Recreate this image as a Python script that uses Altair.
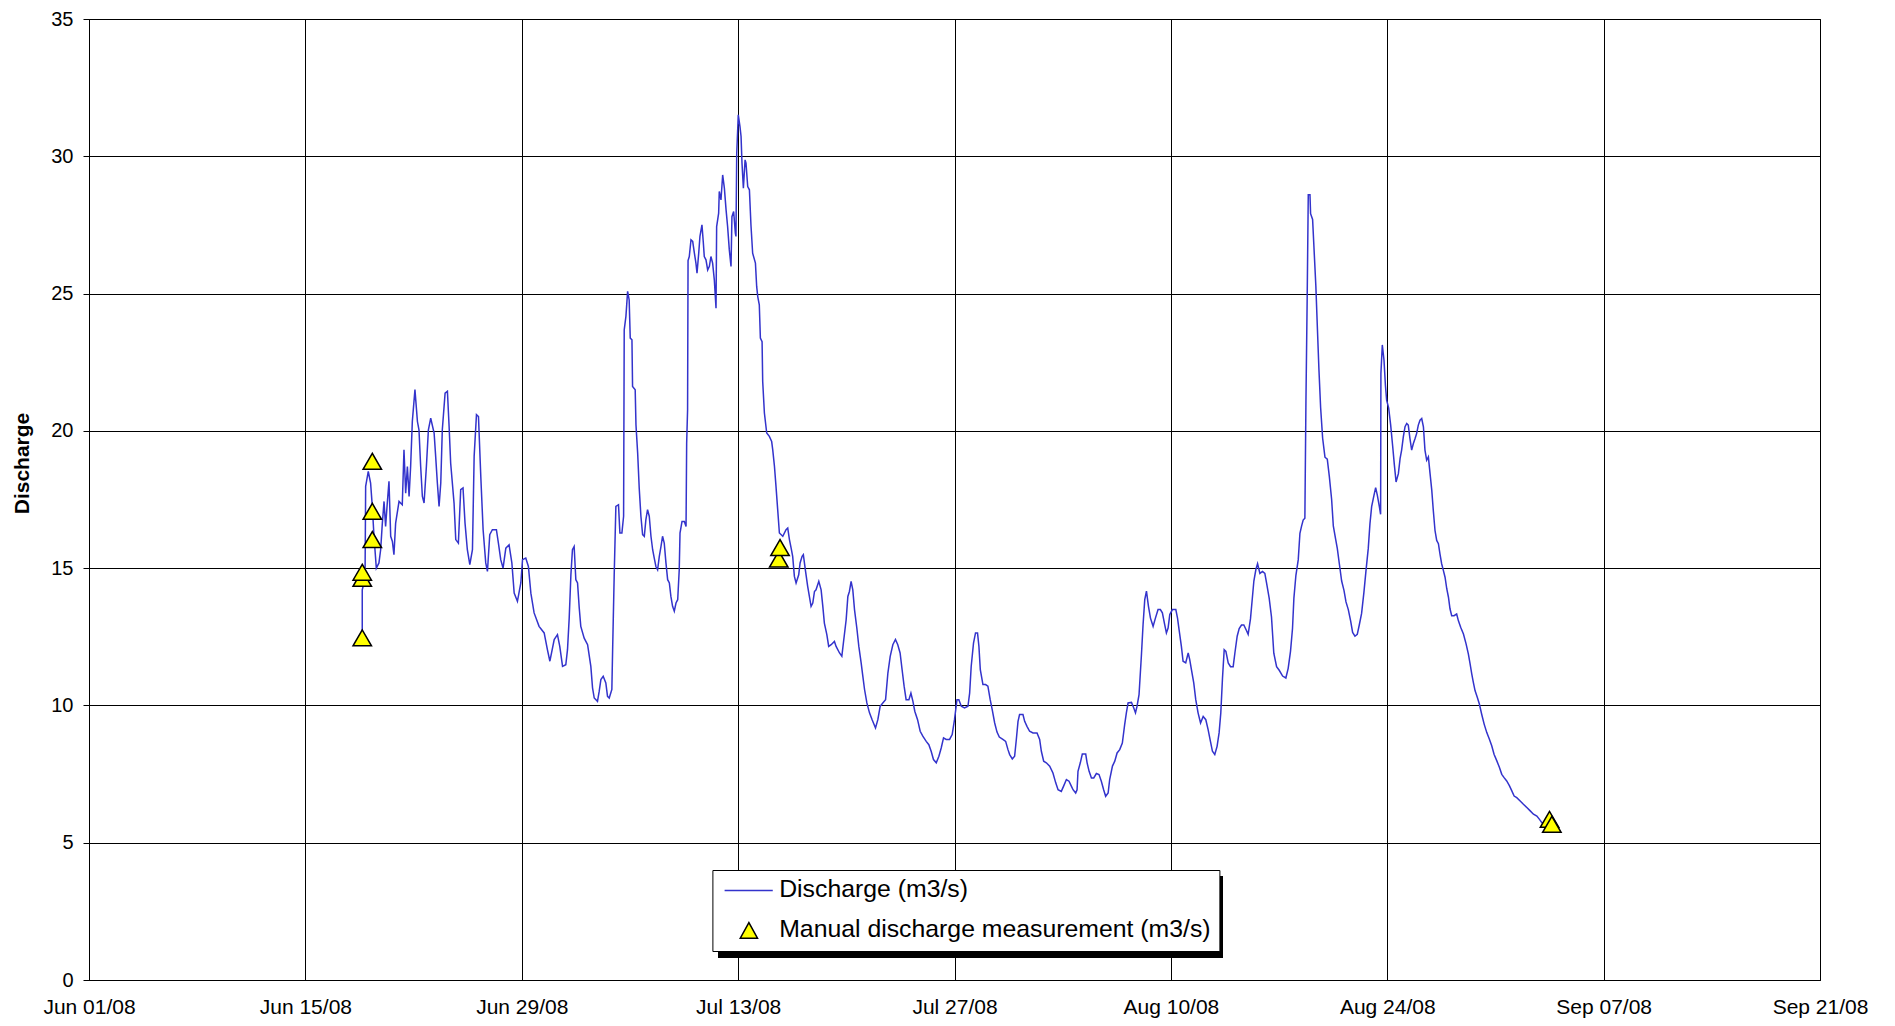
import json
import altair as alt
import pandas as pd

# ---- data: days counted from Jun 01/08, discharge in m3/s ----
JUNE_DAYS = [17.68, 17.68, 17.79, 17.86, 17.90, 18.07, 18.22, 18.33, 18.44, 18.59, 18.76, 18.87, 18.98, 19.09,
             19.19, 19.30, 19.41, 19.52, 19.63, 19.73, 19.84, 20.06, 20.27, 20.38, 20.49, 20.60, 20.71, 20.81,
             20.92, 21.09, 21.25, 21.35, 21.46, 21.57, 21.68, 21.83, 21.96, 22.11, 22.33, 22.43, 22.54, 22.65,
             22.76, 22.86, 23.04, 23.19, 23.30, 23.40, 23.62, 23.73, 23.90, 24.05, 24.20, 24.33, 24.48, 24.64,
             24.81, 24.92, 25.07, 25.20, 25.35, 25.50, 25.67, 25.78, 25.93, 26.10, 26.36, 26.49, 26.64, 26.79,
             26.97, 27.18, 27.36, 27.51, 27.72, 27.94, 28.05, 28.26, 28.43, 28.59, 28.80, 29.12, 29.45, 29.66,
             29.82]
JUNE_Q = [12.50, 14.21, 14.46, 14.58, 17.98, 18.52, 18.10, 17.25, 16.16, 15.00, 15.19, 15.67, 16.64, 17.43,
          16.52, 17.37, 18.16, 16.16, 15.97, 15.49, 16.64, 17.43, 17.31, 19.31, 17.73, 18.70, 17.61, 18.70,
          20.34, 21.50, 20.34, 20.04, 18.70, 17.61, 17.37, 18.70, 20.04, 20.46, 19.92, 19.07, 18.10, 17.25,
          18.10, 20.04, 21.37, 21.44, 20.16, 18.83, 17.37, 16.04, 15.91, 17.86, 17.92, 16.64, 15.67, 15.13,
          15.67, 19.07, 20.59, 20.52, 18.34, 16.40, 15.19, 14.88, 16.22, 16.40, 16.40, 15.91, 15.31, 15.00,
          15.73, 15.85, 15.19, 14.09, 13.79, 14.46, 15.31, 15.37, 15.06, 14.09, 13.37, 12.88, 12.64, 12.03,
          11.61]

JULY_DAYS = [30.10, 30.31, 30.46, 30.64, 30.85, 30.96, 31.07, 31.18, 31.28, 31.39, 31.50, 31.61, 31.72, 31.82,
             32.04, 32.26, 32.47, 32.58, 32.69, 32.90, 33.01, 33.12, 33.27, 33.44, 33.55, 33.66, 33.83, 33.88,
             33.98, 34.09, 34.26, 34.35, 34.48, 34.59, 34.63, 34.74, 34.85, 34.95, 35.02, 35.13, 35.17, 35.34,
             35.39, 35.50, 35.60, 35.71, 35.82, 35.93, 36.03, 36.14, 36.25, 36.36, 36.47, 36.57, 36.68, 36.79,
             36.90, 37.01, 37.11, 37.22, 37.33, 37.44, 37.55, 37.65, 37.76, 37.87, 37.98, 38.09, 38.19, 38.24,
             38.37, 38.52, 38.63, 38.67, 38.73, 38.76, 38.84, 38.95, 39.06, 39.17, 39.27, 39.34, 39.45, 39.53,
             39.66, 39.75, 39.81, 39.92, 40.03, 40.14, 40.24, 40.35, 40.46, 40.57, 40.61, 40.74, 40.78, 40.89,
             41.00, 41.11, 41.22, 41.32, 41.43, 41.54, 41.60, 41.71, 41.82, 41.86, 41.91, 42.01, 42.12, 42.19,
             42.25, 42.34, 42.45, 42.51, 42.62, 42.73, 42.83, 42.94, 43.12, 43.20, 43.27, 43.37, 43.44, 43.55,
             43.59, 43.70, 43.85, 44.02, 44.17, 44.24, 44.35, 44.45, 44.56, 44.67, 44.89, 45.10, 45.21, 45.32,
             45.43, 45.53, 45.64, 45.75, 45.92, 46.01, 46.14, 46.22, 46.35, 46.50, 46.61, 46.72, 46.83, 46.94,
             47.04, 47.22, 47.37, 47.48, 47.58, 47.74, 47.86, 48.02, 48.23, 48.34, 48.56, 48.71, 48.81, 48.99,
             49.10, 49.20, 49.31, 49.42, 49.53, 49.68, 49.81, 49.96, 50.07, 50.18, 50.33, 50.50, 50.67, 50.89,
             51.04, 51.19, 51.36, 51.54, 51.69, 51.84, 52.01, 52.18, 52.33, 52.48, 52.61, 52.74, 52.87, 53.05,
             53.18, 53.31, 53.43, 53.61, 53.78, 53.95, 54.17, 54.34, 54.49, 54.64, 54.82, 54.99, 55.14, 55.29,
             55.46, 55.68, 55.85, 56.00, 56.16, 56.28, 56.44, 56.65, 56.87, 56.98, 57.08, 57.23, 57.36, 57.49,
             57.58, 57.67, 57.84, 58.01, 58.16, 58.31, 58.44, 58.60, 58.75, 58.90, 59.13, 59.31, 59.46, 59.57,
             59.74, 59.89, 60.00, 60.11, 60.21, 60.43, 60.54, 60.69, 60.86]
JULY_Q = [12.40, 12.58, 12.15, 11.42, 11.48, 12.03, 13.18, 14.76, 15.67, 15.79, 14.58, 14.46, 13.55, 12.88,
          12.45, 12.21, 11.42, 10.64, 10.27, 10.15, 10.51, 10.94, 11.06, 10.82, 10.33, 10.27, 10.58, 12.03,
          14.70, 17.25, 17.31, 16.28, 16.28, 16.89, 23.68, 24.17, 25.08, 24.77, 23.38, 23.32, 21.62, 21.50,
          20.22, 19.19, 17.92, 16.89, 16.22, 16.16, 16.76, 17.13, 16.89, 16.16, 15.67, 15.37, 15.06, 14.94,
          15.43, 15.79, 16.16, 15.91, 15.19, 14.58, 14.46, 13.97, 13.61, 13.43, 13.73, 13.85, 14.94, 16.28,
          16.70, 16.70, 16.52, 19.55, 20.77, 26.20, 26.35, 26.96, 26.90, 26.47, 26.11, 25.74, 26.47, 27.08,
          27.50, 26.84, 26.35, 26.23, 25.86, 25.99, 26.35, 26.11, 25.50, 24.47, 27.44, 27.93, 28.72, 28.41,
          29.32, 28.84, 28.05, 27.44, 26.59, 25.99, 27.80, 27.99, 27.20, 27.08, 30.11, 31.51, 31.08, 30.72,
          29.75, 28.84, 29.87, 29.75, 28.90, 28.78, 27.50, 26.47, 26.11, 25.26, 24.89, 24.59, 23.38, 23.25,
          21.80, 20.65, 19.92, 19.80, 19.61, 19.31, 18.71, 17.98, 17.13, 16.28, 16.16, 16.40, 16.46, 16.04,
          15.73, 15.43, 14.70, 14.46, 14.76, 15.19, 15.43, 15.49, 14.94, 14.34, 13.97, 13.61, 13.73, 14.15,
          14.21, 14.52, 14.21, 13.61, 13.00, 12.58, 12.15, 12.21, 12.33, 12.15, 11.91, 11.79, 12.27, 13.12,
          13.97, 14.15, 14.52, 14.21, 13.49, 12.82, 12.15, 11.55, 11.06, 10.58, 10.09, 9.73, 9.48, 9.18,
          9.48, 9.97, 10.09, 10.21, 11.18, 11.79, 12.21, 12.40, 12.21, 11.91, 11.30, 10.70, 10.21, 10.21,
          10.45, 10.15, 9.79, 9.48, 9.06, 8.88, 8.69, 8.57, 8.33, 8.03, 7.91, 8.15, 8.45, 8.82,
          8.76, 8.76, 8.94, 9.48, 10.21, 10.21, 9.97, 9.91, 9.97, 10.45, 11.42, 12.27, 12.64, 12.64,
          12.15, 11.30, 10.76, 10.76, 10.70, 10.21, 9.85, 9.36, 9.03, 8.85, 8.76, 8.69, 8.39, 8.21,
          8.05, 8.15, 8.76, 9.42, 9.67, 9.67, 9.42, 9.24, 9.06]

AUG_DAYS = [61.08, 61.34, 61.51, 61.62, 61.77, 61.94, 62.16, 62.37, 62.55, 62.70, 62.91, 63.06, 63.24, 63.41,
            63.56, 63.67, 63.84, 63.93, 63.99, 64.14, 64.27, 64.49, 64.58, 64.71, 64.86, 65.01, 65.18, 65.35,
            65.50, 65.65, 65.78, 65.94, 66.04, 66.22, 66.37, 66.52, 66.69, 66.86, 67.01, 67.12, 67.23, 67.45,
            67.60, 67.71, 67.81, 67.94, 68.09, 68.20, 68.31, 68.42, 68.55, 68.68, 68.85, 69.00, 69.17, 69.32,
            69.45, 69.60, 69.71, 69.82, 69.93, 70.10, 70.32, 70.43, 70.53, 70.68, 70.79, 70.96, 71.12, 71.22,
            71.33, 71.48, 71.61, 71.76, 71.92, 72.09, 72.26, 72.41, 72.56, 72.69, 72.84, 72.99, 73.12, 73.23,
            73.34, 73.45, 73.56, 73.71, 73.86, 74.03, 74.14, 74.29, 74.42, 74.57, 74.72, 74.89, 75.00, 75.15,
            75.26, 75.37, 75.50, 75.61, 75.76, 75.93, 76.08, 76.19, 76.36, 76.51, 76.66, 76.84, 77.01, 77.23,
            77.44, 77.59, 77.74, 77.87, 77.96, 78.09, 78.24, 78.35, 78.46, 78.56, 78.67, 78.74, 78.82, 78.89,
            79.00, 79.04, 79.17, 79.26, 79.38, 79.47, 79.58, 79.69, 79.82, 79.97, 80.12, 80.25, 80.40, 80.51,
            80.66, 80.77, 80.90, 81.05, 81.20, 81.33, 81.48, 81.63, 81.76, 81.91, 82.06, 82.19, 82.34, 82.49,
            82.62, 82.77, 82.88, 82.99, 83.14, 83.25, 83.36, 83.49, 83.57, 83.59, 83.68, 83.79, 83.88, 83.96,
            84.09, 84.22, 84.35, 84.46, 84.57, 84.72, 84.83, 84.93, 85.04, 85.15, 85.26, 85.36, 85.47, 85.58,
            85.69, 85.80, 85.90, 86.01, 86.12, 86.23, 86.34, 86.44, 86.55, 86.66, 86.77, 86.88, 86.98, 87.09,
            87.20, 87.31, 87.41, 87.52, 87.63, 87.74, 87.85, 87.96, 88.06, 88.17, 88.32, 88.49, 88.60, 88.75,
            88.93, 89.10, 89.25, 89.36, 89.47, 89.57, 89.68, 89.83, 89.96, 90.11, 90.27, 90.44, 90.61, 90.76,
            90.91, 91.09, 91.26, 91.41, 91.56, 91.73, 91.91]
AUG_Q = [9.00, 9.00, 8.76, 8.33, 7.97, 7.91, 7.79, 7.54, 7.18, 6.93, 6.87, 7.06, 7.30, 7.24,
         7.06, 6.93, 6.81, 6.93, 7.60, 7.91, 8.23, 8.23, 7.91, 7.60, 7.36, 7.36, 7.52, 7.48,
         7.24, 6.93, 6.69, 6.81, 7.30, 7.79, 7.97, 8.27, 8.39, 8.63, 9.30, 9.73, 10.09, 10.11,
         9.91, 9.73, 9.97, 10.39, 11.79, 12.94, 13.85, 14.16, 13.61, 13.18, 12.88, 13.18, 13.49, 13.49,
         13.37, 12.94, 12.64, 12.82, 13.31, 13.49, 13.49, 13.18, 12.76, 12.15, 11.61, 11.55, 11.91, 11.67,
         11.30, 10.82, 10.21, 9.73, 9.36, 9.60, 9.48, 9.12, 8.69, 8.33, 8.21, 8.51, 9.00, 9.73,
         11.00, 12.03, 11.97, 11.55, 11.41, 11.41, 11.90, 12.52, 12.80, 12.93, 12.93, 12.73, 12.59, 13.15,
         13.84, 14.53, 14.95, 15.16, 14.81, 14.88, 14.81, 14.46, 13.91, 13.22, 11.90, 11.41, 11.28, 11.07,
         11.00, 11.35, 11.97, 12.80, 13.91, 14.74, 15.30, 16.27, 16.54, 16.75, 16.82, 21.12, 24.86, 28.60,
         28.60, 27.91, 27.70, 26.66, 25.28, 23.89, 22.23, 20.84, 19.73, 19.04, 18.97, 18.35, 17.51, 16.54,
         16.06, 15.71, 15.16, 14.53, 14.19, 13.77, 13.49, 13.08, 12.66, 12.52, 12.59, 12.93, 13.35, 14.12,
         14.88, 15.71, 16.61, 17.24, 17.65, 17.93, 17.65, 17.24, 16.96, 22.09, 23.13, 22.57, 21.67, 21.12,
         20.84, 20.22, 19.45, 18.76, 18.14, 18.44, 18.99, 19.30, 19.78, 20.15, 20.27, 20.21, 19.72, 19.30,
         19.54, 19.72, 19.90, 20.21, 20.39, 20.45, 20.15, 19.30, 18.93, 19.05, 18.44, 17.84, 17.10, 16.37,
         16.01, 15.89, 15.52, 15.16, 14.92, 14.67, 14.25, 13.94, 13.52, 13.27, 13.27, 13.33, 13.09, 12.85,
         12.60, 12.24, 11.87, 11.51, 11.14, 10.84, 10.54, 10.29, 10.05, 9.68, 9.32, 9.01, 8.77, 8.53,
         8.22, 7.98, 7.74, 7.49, 7.37, 7.25, 7.07]

SEP_DAYS = [92.06, 92.21, 92.38, 92.60, 92.81, 93.03, 93.25, 93.46, 93.68, 93.85, 94.00, 94.40]
SEP_Q = [6.89, 6.70, 6.64, 6.52, 6.40, 6.28, 6.16, 6.04, 5.97, 5.85, 5.73, 5.65]

MEAS_DAYS = [17.68, 17.68, 17.68, 18.33, 18.33, 18.33, 44.63, 44.71, 94.50, 94.65]
MEAS_Q = [12.46, 14.63, 14.85, 16.04, 17.07, 18.89, 15.33, 15.75, 5.85, 5.67]

TICK_DAYS = [0, 14, 28, 42, 56, 70, 84, 98, 112]
TICK_LABELS = ["Jun 01/08", "Jun 15/08", "Jun 29/08", "Jul 13/08", "Jul 27/08",
               "Aug 10/08", "Aug 24/08", "Sep 07/08", "Sep 21/08"]
Y_TICKS = [0, 5, 10, 15, 20, 25, 30, 35]
SERIES = ["Discharge (m3/s)", "Manual discharge measurement (m3/s)"]

FONT = "Liberation Sans"
BLUE = "#3333CC"
YELLOW = "#FFFF00"
# legend symbols: a short line and a small triangle, drawn in symbol units
LEGEND_SHAPES = ["M-0.8,0L3.9,0", "M1.57,-0.756L0.73,0.756L2.41,0.756Z"]

line_df = pd.DataFrame({
    "day": JUNE_DAYS + JULY_DAYS + AUG_DAYS + SEP_DAYS,
    "q": JUNE_Q + JULY_Q + AUG_Q + SEP_Q,
})
meas_df = pd.DataFrame({"day": MEAS_DAYS, "q": MEAS_Q})
# one row per legend entry, placed outside the x domain and clipped away
legend_df = pd.DataFrame({"day": [-50, -50], "q": [1, 1], "series": SERIES})
shadow_df = pd.DataFrame({"k": [0]})

label_expr = json.dumps(TICK_LABELS) + "[round(datum.value / 14)]"

x_enc = alt.X(
    "day:Q",
    scale=alt.Scale(domain=[0, 112], nice=False, zero=False),
    axis=alt.Axis(values=TICK_DAYS, labelExpr=label_expr, title=None, grid=True,
                  ticks=False, tickSize=0, labelPadding=16, labelFontSize=21,
                  labelFlush=False, labelOverlap=False),
)
y_enc = alt.Y(
    "q:Q",
    scale=alt.Scale(domain=[0, 35], nice=False, zero=True),
    axis=alt.Axis(values=Y_TICKS, title="Discharge", titleFontSize=21, titleFontWeight="bold",
                  titleX=-61, titleY=444, titleAlign="center", titleBaseline="alphabetic",
                  grid=True, ticks=True, tickSize=6, labelPadding=10, labelFontSize=20),
)

line = alt.Chart(line_df).mark_line(color=BLUE, strokeWidth=1.5).encode(x=x_enc, y=y_enc)

points = alt.Chart(meas_df).mark_point(
    shape="triangle-up", filled=True, fill=YELLOW, stroke="black", strokeWidth=1.5, size=340, opacity=1
).encode(x="day:Q", y="q:Q")

shadow = alt.Chart(shadow_df).mark_rect(color="black").encode(
    x=alt.value(629), x2=alt.value(1134), y=alt.value(857), y2=alt.value(939)
)

leg = alt.Legend(title=None, orient="none", legendX=623.4, legendY=851,
                 strokeColor="black", fillColor="white", padding=8,
                 labelFontSize=24.8, labelFont=FONT, labelColor="black", labelLimit=0,
                 labelOffset=34, symbolStrokeWidth=1.5, symbolOpacity=1, symbolSize=420,
                 rowPadding=14)

legend_layer = alt.Chart(legend_df).mark_point(filled=True, opacity=1, strokeWidth=1.5, size=420, clip=True).encode(
    x="day:Q",
    y="q:Q",
    shape=alt.Shape("series:N", scale=alt.Scale(domain=SERIES, range=LEGEND_SHAPES), legend=leg),
    fill=alt.Fill("series:N", scale=alt.Scale(domain=SERIES, range=[BLUE, YELLOW]), legend=leg),
    stroke=alt.Stroke("series:N", scale=alt.Scale(domain=SERIES, range=[BLUE, "#000000"]), legend=leg),
)

chart = (
    alt.layer(line, points, shadow, legend_layer)
    .properties(width=1731, height=961,
                autosize=alt.AutoSizeParams(type="none"),
                padding={"left": 81, "top": 11, "right": 50, "bottom": 38})
    .configure_axis(labelFont=FONT, titleFont=FONT, labelColor="black", titleColor="black",
                    domainColor="black", tickColor="black", gridColor="black", gridOpacity=1,
                    gridWidth=1, domainWidth=1)
    .configure_view(stroke="black", strokeWidth=1)
)

chart.save("out.html", embed_options={"renderer": "svg", "actions": False})
